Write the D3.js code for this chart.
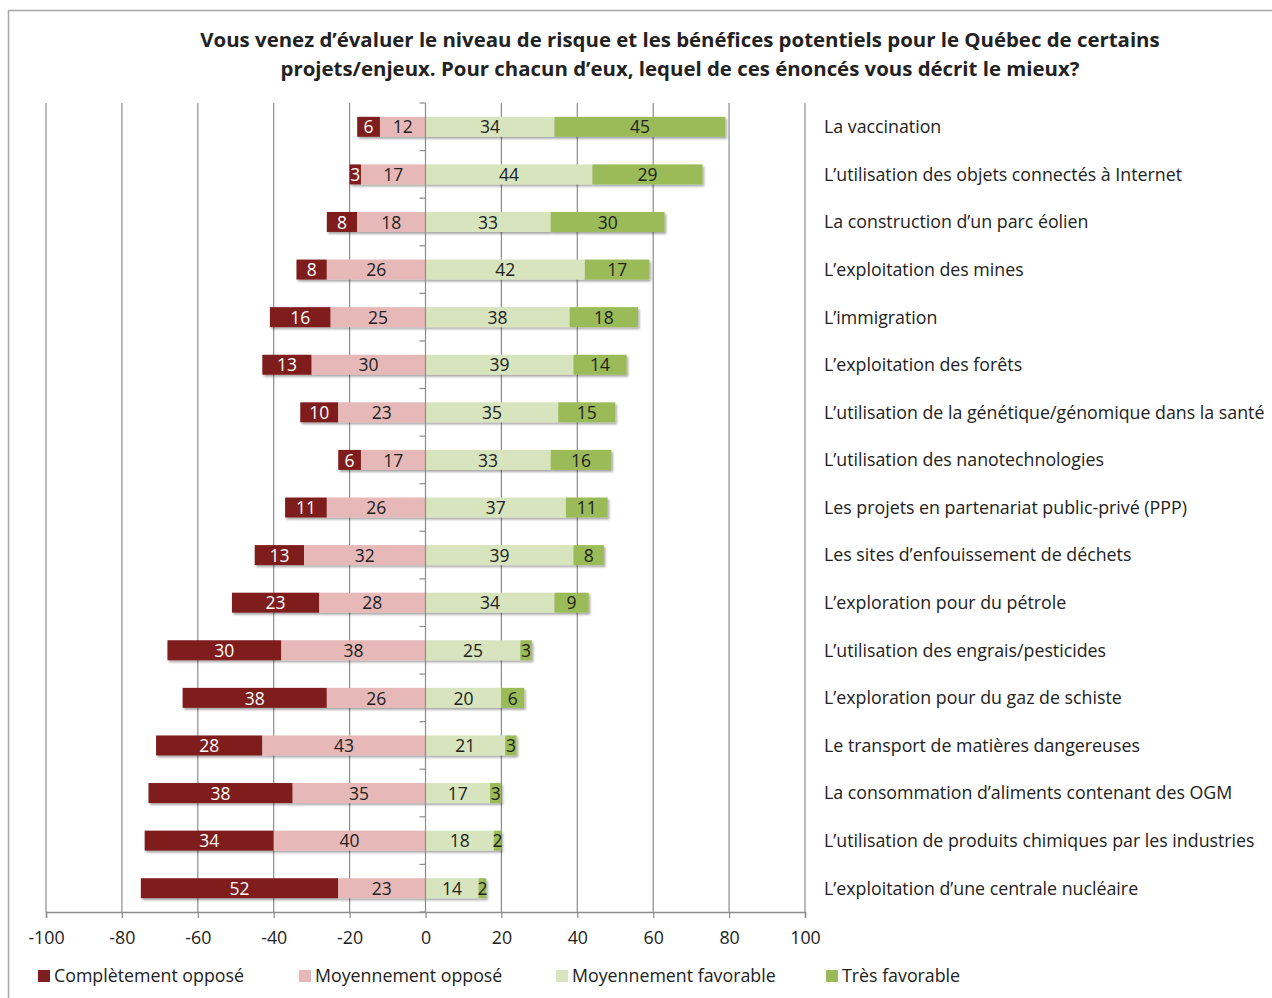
<!DOCTYPE html>
<html>
<head>
<meta charset="utf-8">
<script src="https://cdn.jsdelivr.net/npm/d3@7"></script>
<style>
  body { margin: 0; background: #fff; }
  svg { display: block; }
  text { font-family: "Open Sans", Lato, sans-serif; }
</style>
</head>
<body>
<svg id="chart" width="1272" height="998"></svg>
<script>
// Survey items, top to bottom
const categories = [
  "La vaccination",
  "L’utilisation des objets connectés à Internet",
  "La construction d’un parc éolien",
  "L’exploitation des mines",
  "L’immigration",
  "L’exploitation des forêts",
  "L’utilisation de la génétique/génomique dans la santé",
  "L’utilisation des nanotechnologies",
  "Les projets en partenariat public-privé (PPP)",
  "Les sites d’enfouissement de déchets",
  "L’exploration pour du pétrole",
  "L’utilisation des engrais/pesticides",
  "L’exploration pour du gaz de schiste",
  "Le transport de matières dangereuses",
  "La consommation d’aliments contenant des OGM",
  "L’utilisation de produits chimiques par les industries",
  "L’exploitation d’une centrale nucléaire"
];

// Percentages per answer
const completelyOpposed = [6, 3, 8, 8, 16, 13, 10, 6, 11, 13, 23, 30, 38, 28, 38, 34, 52];
const somewhatOpposed   = [12, 17, 18, 26, 25, 30, 23, 17, 26, 32, 28, 38, 26, 43, 35, 40, 23];
const somewhatFavorable = [34, 44, 33, 42, 38, 39, 35, 33, 37, 39, 34, 25, 20, 21, 17, 18, 14];
const veryFavorable     = [45, 29, 30, 17, 18, 14, 15, 16, 11, 8, 9, 3, 6, 3, 3, 2, 2];

const seriesNames = ["Complètement opposé", "Moyennement opposé", "Moyennement favorable", "Très favorable"];
const seriesColors = ["#7f1f1f", "#e6b8b7", "#d7e4bd", "#9bbb59"];
const labelColors = ["#ffffff", "#222222", "#222222", "#222222"];

const xTicks = [-100, -80, -60, -40, -20, 0, 20, 40, 60, 80, 100];

const FS = 17.8;

const svg = d3.select("#chart");

// Outer frame
svg.append("rect")
  .attr("x", 8.5).attr("y", 10.5)
  .attr("width", 1400).attr("height", 1100)
  .attr("fill", "none").attr("stroke", "#a6a6a6").attr("stroke-width", 1.5);

// Title
const title = svg.append("text")
  .attr("text-anchor", "middle")
  .attr("font-weight", "bold")
  .attr("font-size", 20.4)
  .attr("fill", "#222");
title.append("tspan").attr("x", 680).attr("y", 47)
  .text("Vous venez d’évaluer le niveau de risque et les bénéfices potentiels pour le Québec de certains");
title.append("tspan").attr("x", 680).attr("y", 76)
  .text("projets/enjeux. Pour chacun d’eux, lequel de ces énoncés vous décrit le mieux?");

const plot = { left: 46, right: 805, top: 103, bottom: 912 };

const x = d3.scaleLinear().domain([-100, 100]).range([plot.left, plot.right]);
const y = d3.scaleBand().domain(categories).range([plot.top, plot.bottom]).paddingInner(0.58).paddingOuter(0.29);

// Vertical gridlines
svg.append("g").selectAll("line")
  .data(xTicks.filter(d => d !== 0))
  .join("line")
  .attr("x1", d => x(d)).attr("x2", d => x(d))
  .attr("y1", plot.top).attr("y2", plot.bottom)
  .attr("stroke", "#8c8c8c").attr("stroke-width", 1.2);

// Drop shadow for bars
const defs = svg.append("defs");
const f = defs.append("filter").attr("id", "shadow")
  .attr("x", "-5%").attr("y", "-30%").attr("width", "115%").attr("height", "180%");
f.append("feDropShadow").attr("dx", 1.5).attr("dy", 2).attr("stdDeviation", 1.3)
  .attr("flood-color", "#000").attr("flood-opacity", 0.35);

// Stack segments: opposed to the left of zero, favorable to the right
const rows = categories.map((c, i) => {
  const v = [completelyOpposed[i], somewhatOpposed[i], somewhatFavorable[i], veryFavorable[i]];
  const x0b = -(v[0] + v[1]);
  const segs = [
    { s: 0, from: x0b, to: x0b + v[0], v: v[0] },
    { s: 1, from: -v[1], to: 0, v: v[1] },
    { s: 2, from: 0, to: v[2], v: v[2] },
    { s: 3, from: v[2], to: v[2] + v[3], v: v[3] }
  ];
  return { c, segs };
});

const barG = svg.append("g");
rows.forEach(r => {
  const g = barG.append("g").attr("filter", "url(#shadow)");
  g.selectAll("rect").data(r.segs).join("rect")
    .attr("x", d => x(d.from))
    .attr("width", d => x(d.to) - x(d.from))
    .attr("y", y(r.c))
    .attr("height", y.bandwidth())
    .attr("fill", d => seriesColors[d.s]);
});

// Value labels
rows.forEach(r => {
  barG.append("g").selectAll("text").data(r.segs).join("text")
    .attr("x", d => (x(d.from) + x(d.to)) / 2)
    .attr("y", y(r.c) + y.bandwidth() / 2)
    .attr("dy", "0.38em")
    .attr("text-anchor", "middle")
    .attr("font-size", 17.5)
    .attr("fill", d => labelColors[d.s])
    .text(d => d.v);
});

// Zero axis with category ticks on the left
const zero = svg.append("g");
zero.append("line")
  .attr("x1", x(0)).attr("x2", x(0))
  .attr("y1", plot.top).attr("y2", plot.bottom)
  .attr("stroke", "#8c8c8c").attr("stroke-width", 1.2);
zero.selectAll("line.tk")
  .data(d3.range(categories.length + 1))
  .join("line").attr("class", "tk")
  .attr("x1", x(0) - 6).attr("x2", x(0))
  .attr("y1", i => plot.top + i * (plot.bottom - plot.top) / categories.length)
  .attr("y2", i => plot.top + i * (plot.bottom - plot.top) / categories.length)
  .attr("stroke", "#8c8c8c").attr("stroke-width", 1.2);

// Category labels on the right
svg.append("g").selectAll("text").data(categories).join("text")
  .attr("x", 824)
  .attr("y", d => y(d) + y.bandwidth() / 2)
  .attr("dy", "0.36em")
  .attr("font-size", FS)
  .attr("fill", "#222")
  .text(d => d);

// Bottom axis
const xAxis = d3.axisBottom(x).tickValues(xTicks).tickSize(6).tickPadding(13).tickFormat(d => String(d));
const ax = svg.append("g").attr("transform", `translate(0,${plot.bottom})`).call(xAxis);
ax.select(".domain").attr("stroke", "#8c8c8c").attr("stroke-width", 1.5);
ax.selectAll(".tick line").attr("stroke", "#8c8c8c").attr("stroke-width", 1.2);
ax.selectAll(".tick text").attr("font-size", FS).attr("fill", "#222")
  .attr("font-family", "'Open Sans', Lato, sans-serif");

// Legend
const legendX = [38, 299, 556, 826];
const lg = svg.append("g");
seriesNames.forEach((n, i) => {
  lg.append("rect").attr("x", legendX[i]).attr("y", 970).attr("width", 12).attr("height", 12)
    .attr("fill", seriesColors[i]);
  lg.append("text").attr("x", legendX[i] + 16).attr("y", 976).attr("dy", "0.36em")
    .attr("font-size", FS).attr("fill", "#222").text(n);
});
</script>
</body>
</html>
